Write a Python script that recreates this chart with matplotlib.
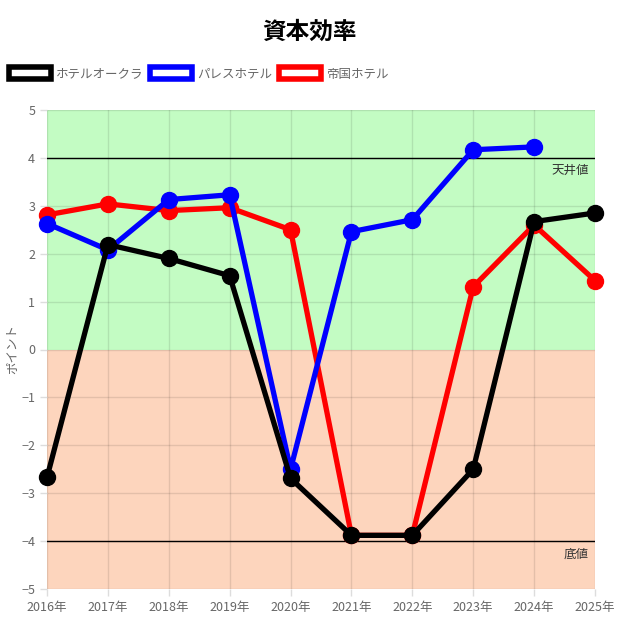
import matplotlib
matplotlib.use("Agg")
import matplotlib.pyplot as plt
from matplotlib.patches import Rectangle
import numpy as np

plt.rcParams['font.family'] = ['Noto Sans CJK JP', 'DejaVu Sans']

years = [2016, 2017, 2018, 2019, 2020, 2021, 2022, 2023, 2024, 2025]
year_labels = [f"{y}年" for y in years]
okura = [-2.67, 2.19, 1.9, 1.54, -2.69, -3.88, -3.88, -2.5, 2.67, 2.85]
palace = [2.63, 2.08, 3.13, 3.23, -2.5, 2.46, 2.71, 4.17, 4.23, np.nan]
imperial = [2.81, 3.04, 2.9, 2.96, 2.5, -3.88, -3.88, 1.31, 2.6, 1.44]
series_names = ["ホテルオークラ", "パレスホテル", "帝国ホテル"]
series_colors = ["#000000", "#0000ff", "#ff0000"]
ceiling = 4
floor = -4

fig = plt.figure(figsize=(6.18, 6.18), dpi=100)
ax = fig.add_axes([47/618, 1-589/618, (595-47)/618, (589-110)/618])

x = np.arange(len(years))
ax.set_xlim(0, len(years)-1)
ax.set_ylim(-5, 5)

ax.axhspan(0, 5, color="#c3fcc3", zorder=0, lw=0)
ax.axhspan(-5, 0, color="#fdd5bd", zorder=0, lw=0)

ax.set_xticks(x)
ax.set_xticklabels(year_labels)
ax.set_yticks(range(-5, 6))
ax.grid(True, color="#000000", alpha=0.1, lw=1, zorder=1)
for s in ax.spines.values():
    s.set_visible(False)
ax.tick_params(axis='both', colors="#666666", labelsize=9, length=5, width=1)
ax.tick_params(axis='both', color="#dddddd")

ax.axhline(ceiling, color="#000000", lw=1, zorder=2)
ax.axhline(floor, color="#000000", lw=1, zorder=2)
ax.text(len(years)-1.1, ceiling-0.13, "天井値", ha='right', va='top', fontsize=9, color="#333333", zorder=3)
ax.text(len(years)-1.1, floor-0.13, "底値", ha='right', va='top', fontsize=9, color="#333333", zorder=3)

data = [okura, palace, imperial]
zorders = [7, 6, 5]
for vals, col, z in zip(data, series_colors, zorders):
    ax.plot(x, vals, color=col, lw=3.8, marker='o', markersize=11.5, zorder=z, clip_on=False,
            solid_joinstyle='round')

ax.set_ylabel("ポイント", color="#666666", fontsize=9, labelpad=2)

fig.text(0.5, 1-32/618, "資本効率", ha='center', va='center', fontsize=17, fontweight='bold')

handles = [Rectangle((0, 0), 1, 1, facecolor='white', edgecolor=c, lw=4) for c in series_colors]
leg = fig.legend(handles, series_names, loc='center left', bbox_to_anchor=(0.014, 1-74/618),
                 ncol=3, frameon=False, fontsize=9, handlelength=3.4, handleheight=1.05,
                 columnspacing=0.5, handletextpad=0.4, borderaxespad=0, borderpad=0)
for t in leg.get_texts():
    t.set_color("#666666")

fig.savefig("out.png", dpi=100)
